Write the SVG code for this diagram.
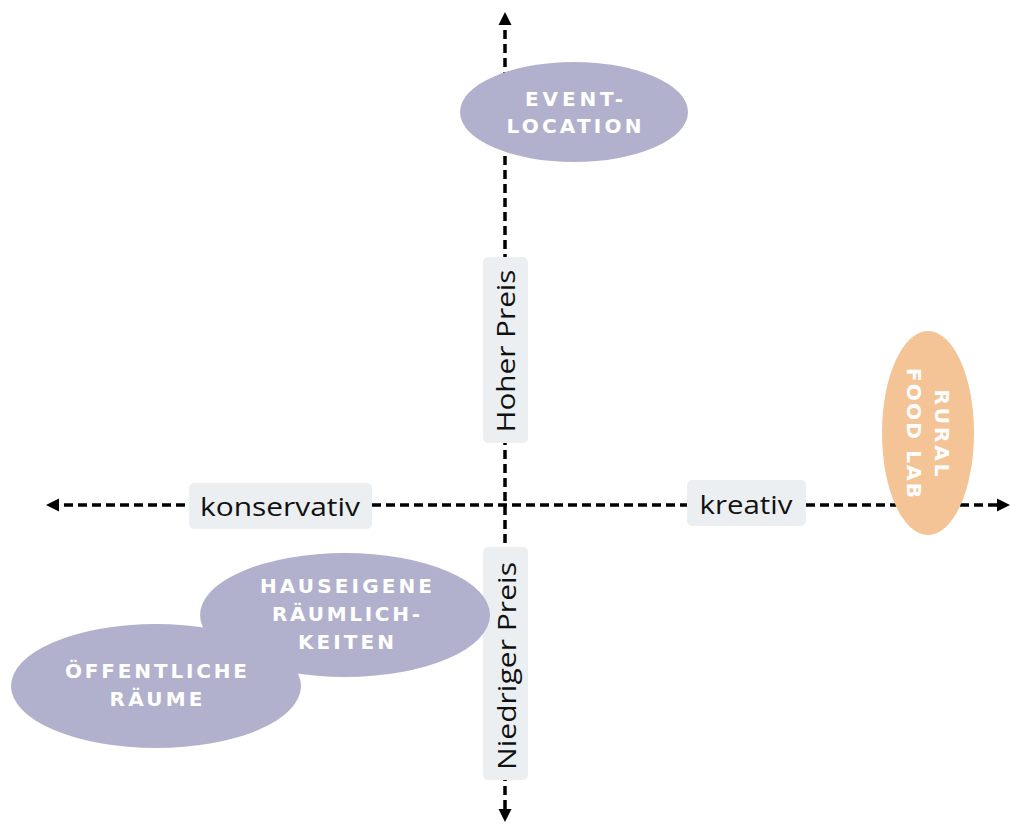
<svg xmlns="http://www.w3.org/2000/svg" width="1010" height="823" viewBox="0 0 1010 823">
<style>
.axis{stroke:#000;stroke-width:3.5;stroke-dasharray:9 5;fill:none}
.lbl{fill:#ECEFF2}
.lt{font-family:"Open Sans","Liberation Sans",sans-serif;font-size:26px;fill:#111;text-anchor:middle}
.p{fill:#B1B1CD}
.o{fill:#F5C496}
.nt{font-family:"DejaVu Sans","Open Sans",sans-serif;font-weight:700;font-size:20px;fill:#fff;text-anchor:middle}
</style>
<defs>
<marker id="ah" viewBox="0 0 10 10" refX="7" refY="5" markerWidth="3.8" markerHeight="3.8" orient="auto-start-reverse" markerUnits="strokeWidth">
<path d="M0,0 L10,5 L0,10 z" fill="#000"/>
</marker>
</defs>
<g id="connectors">
<line class="axis" x1="505" y1="16" x2="505" y2="818" marker-start="url(#ah)" marker-end="url(#ah)"/>
<line class="axis" x1="50" y1="505" x2="1006" y2="505" marker-start="url(#ah)" marker-end="url(#ah)"/>
</g>
<g id="label-hoher-preis">
<rect class="lbl" x="483" y="257" width="45" height="186" rx="5"/>
<text class="lt" transform="translate(515,351) rotate(-90)" textLength="163" lengthAdjust="spacingAndGlyphs">Hoher Preis</text>
</g>
<g id="label-niedriger-preis">
<rect class="lbl" x="483" y="547" width="45" height="233" rx="5"/>
<text class="lt" transform="translate(516,666) rotate(-90)" textLength="208" lengthAdjust="spacingAndGlyphs">Niedriger Preis</text>
</g>
<g id="label-konservativ">
<rect class="lbl" x="189" y="483" width="183" height="46" rx="5"/>
<text class="lt" x="280" y="516" textLength="160" lengthAdjust="spacingAndGlyphs">konservativ</text>
</g>
<g id="label-kreativ">
<rect class="lbl" x="687" y="480" width="119" height="46" rx="5"/>
<text class="lt" x="746" y="514" textLength="93" lengthAdjust="spacingAndGlyphs">kreativ</text>
</g>
<g id="node-event-location">
<ellipse class="p" cx="574" cy="112" rx="114" ry="50"/>
<text class="nt" x="574" y="106" textLength="98" lengthAdjust="spacing">EVENT-</text>
<text class="nt" x="574" y="133" textLength="135" lengthAdjust="spacing">LOCATION</text>
</g>
<g id="node-rural-food-lab">
<ellipse class="o" cx="928" cy="433" rx="46" ry="102"/>
<text class="nt" transform="translate(935,433) rotate(90)" textLength="87" lengthAdjust="spacing">RURAL</text>
<text class="nt" transform="translate(907,433) rotate(90)" textLength="130" lengthAdjust="spacing">FOOD LAB</text>
</g>
<g id="node-hauseigene">
<ellipse class="p" cx="345" cy="615" rx="145" ry="62"/>
<text class="nt" x="346" y="593" textLength="172" lengthAdjust="spacing">HAUSEIGENE</text>
<text class="nt" x="346" y="621" textLength="148" lengthAdjust="spacing">RÄUMLICH-</text>
<text class="nt" x="346" y="649" textLength="96" lengthAdjust="spacing">KEITEN</text>
</g>
<g id="node-oeffentliche">
<ellipse class="p" cx="156" cy="686" rx="145" ry="62"/>
<text class="nt" x="156" y="678" textLength="182" lengthAdjust="spacing">ÖFFENTLICHE</text>
<text class="nt" x="156" y="706" textLength="93" lengthAdjust="spacing">RÄUME</text>
</g>
</svg>
